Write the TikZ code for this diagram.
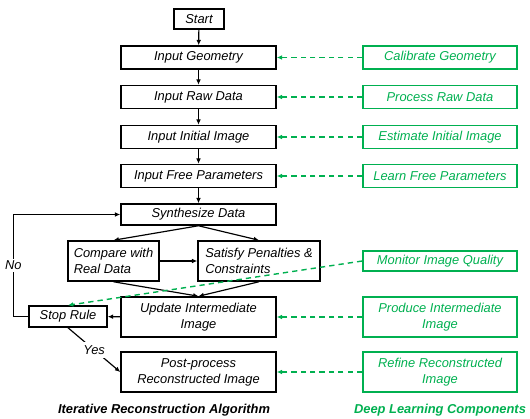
\documentclass[tikz,border=0pt]{standalone}
\usepackage{fontspec}
\setmainfont{Liberation Sans}
\usepackage{xcolor}
\usepackage{tikz}
\usetikzlibrary{positioning,arrows.meta}
\definecolor{dlgreen}{RGB}{0,176,80}
\newcommand{\boxfont}{\fontsize{11pt}{13.6pt}\selectfont\itshape}

\begin{document}
\begin{tikzpicture}[x=0.03cm, y=-0.03cm,
					box/.style={
						draw, line width=1.3pt, font=\boxfont, inner sep=2pt,
						minimum width=4.65cm, minimum height=0.69cm
					},
					dlbox/.style={
						draw=dlgreen, text=dlgreen, line width=1.3pt, font=\boxfont,
						inner sep=2pt, minimum width=4.62cm, minimum height=0.69cm, align=center
					},
					flow/.style={-{Latex[length=4.5pt,width=4pt]}, line width=1pt},
					dlflow/.style={-{Latex[length=4.5pt,width=4pt]}, draw=dlgreen, line width=1.2pt,
						dash pattern=on 4.5pt off 3.5pt},
					lbl/.style={fill=white, font=\boxfont, inner sep=2pt},
					title/.style={font=\fontsize{11pt}{13.6pt}\selectfont\bfseries\itshape}
					]
					\useasboundingbox (0,0) rectangle (530,419);
					
					% algorithm column
					\node[box, minimum width=1.5cm, minimum height=0.6cm] (start) at (199,19) {Start};
					\node[box] (geom) at (198.5,57.5) {Input Geometry};
					\node[box] (raw) at (198.5,97) {Input Raw Data};
					\node[box] (init) at (198.5,137) {Input Initial Image};
					\node[box] (free) at (198.5,176) {Input Free Parameters};
					\node[box, minimum height=0.63cm] (synth) at (198.5,214.5) {Synthesize Data};
					\node[box, minimum width=2.73cm, minimum height=1.2cm, align=left] (comp) at (113.5,261) {Compare with\\Real Data};
					\node[box, minimum width=3.66cm, minimum height=1.2cm, align=left] (pen) at (259,261) {Satisfy Penalties \&\\Constraints};
					\node[box, minimum height=1.2cm, align=center] (upd) at (198.5,317) {Update Intermediate\\Image};
					\node[box, minimum width=2.34cm, minimum height=0.63cm] (stop) at (68,316.5) {Stop Rule};
					\node[box, minimum height=1.2cm, align=center] (post) at (198.5,372) {Post-process\\Reconstructed Image};
					
					% deep learning column
					\node[dlbox] (cal) at (440,57.5) {Calibrate Geometry};
					\node[dlbox] (proc) at (440,97) {Process Raw Data};
					\node[dlbox] (est) at (440,137) {Estimate Initial Image};
					\node[dlbox] (learn) at (440,176) {Learn Free Parameters};
					\node[dlbox, minimum height=0.6cm] (mon) at (440,261) {Monitor Image Quality};
					\node[dlbox, minimum height=1.2cm] (prod) at (440,317) {Produce Intermediate\\Image};
					\node[dlbox, minimum height=1.2cm] (ref) at (440,372) {Refine Reconstructed\\Image};
					
					\node[title] (ltitle) at (164,410) {Iterative Reconstruction Algorithm};
					\node[title, text=dlgreen] (rtitle) at (440,410) {Deep Learning Components};
					
					% flow arrows
					\foreach \a/\b in {start/geom, geom/raw, raw/init, init/free, free/synth} {
						\draw[flow] (\a) -- (\b);
					}
					\draw[flow] (synth.south) -- (comp.north);
					\draw[flow] (synth.south) -- (pen.north);
					\draw[flow] (comp) -- (pen);
					\draw[flow] (comp.south) -- (upd.north);
					\draw[flow] (pen.south) -- (upd.north);
					\draw[flow] (upd) -- (stop);
					\draw[flow] (stop.west) -- ++(-15,0) |- node[lbl, pos=0.25] {No} (synth.west);
					\draw[flow] (stop.south) -- node[lbl, inner sep=3pt] {Yes} (post.west);
					
					% deep learning links
					\foreach \a/\b in {cal/geom, proc/raw, est/init, learn/free, prod/upd, ref/post} {
						\draw[dlflow] (\a.west) -- (\b.east);
					}
					\draw[dlflow] (mon.west) -- (stop.north);
				\end{tikzpicture}
\end{document}
